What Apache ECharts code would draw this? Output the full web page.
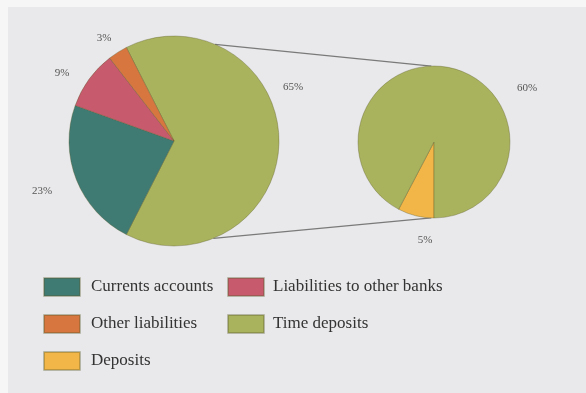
<!DOCTYPE html>
<html><head><meta charset="utf-8">
<script src="https://cdn.jsdelivr.net/npm/echarts@6/dist/echarts.min.js"></script>
<style>html,body{margin:0;padding:0;background:#f6f6f6}#c{width:586px;height:393px}</style>
</head><body><div id="c"></div>
<script>
// Data
const mainNames = ['Time deposits','Currents accounts','Liabilities to other banks','Other liabilities'];
const mainValues = [65, 23, 9, 3];
const subNames = ['Deposits','Time deposits'];
const subValues = [5, 60];
const legendLeft = ['Currents accounts','Other liabilities','Deposits'];
const legendRight = ['Liabilities to other banks','Time deposits'];

// Styles / layout
const colors = {
  'Currents accounts':'#3f7a73',
  'Liabilities to other banks':'#c75a6c',
  'Other liabilities':'#d8763f',
  'Time deposits':'#a9b25c',
  'Deposits':'#f1b548'
};
const MAIN = {cx:174, cy:141, r:105};
const SUB = {cx:434, cy:142, r:76};
const labelPos = [
  [[293,87],[42,191],[62,73],[104,38]],
  [[425,240],[527,88]]
];
function pt(p, deg){const a=deg*Math.PI/180;return [p.cx+p.r*Math.sin(a), p.cy-p.r*Math.cos(a)];}
const t1=pt(MAIN,23), t2=pt(SUB,-2), b1=pt(MAIN,158), b2=pt(SUB,182);

const chart = echarts.init(document.getElementById('c'));
const font = '"Liberation Serif","DejaVu Serif",serif';
function mk(names, vals){return names.map((n,i)=>({name:n,value:vals[i],itemStyle:{color:colors[n]}}));}
function lay(p){
  const s = labelPos[p.seriesIndex] || [];
  const q = s[p.dataIndex];
  if(!q) return {};
  return {x:q[0], y:q[1], align:'center', verticalAlign:'middle'};
}
const pieCommon = {
  type:'pie', clockwise:true, silent:true,
  itemStyle:{borderColor:'rgba(90,90,40,0.35)', borderWidth:1},
  label:{show:true, position:'outside', formatter:'{c}%', fontFamily:font, fontSize:11, color:'#555', overflow:'none'},
  labelLine:{show:false},
  emphasis:{disabled:true},
  labelLayout: lay
};
chart.setOption({
  backgroundColor:'#f6f6f6',
  animation:false,
  graphic:[
    {type:'rect', z:-10, shape:{x:8,y:7,width:578,height:386}, style:{fill:'#e9e9eb'}},
    {type:'line', z:-5, shape:{x1:t1[0],y1:t1[1],x2:t2[0],y2:t2[1]}, style:{stroke:'#7a7a7a',lineWidth:1.2}},
    {type:'line', z:-5, shape:{x1:b1[0],y1:b1[1],x2:b2[0],y2:b2[1]}, style:{stroke:'#7a7a7a',lineWidth:1.2}}
  ],
  legend:[
    {orient:'vertical', left:38, top:272, itemWidth:36, itemHeight:18, itemGap:17, icon:'rect', selectedMode:false,
     data:legendLeft, textStyle:{fontFamily:font, fontSize:17, color:'#333', padding:[0,0,0,6]}},
    {orient:'vertical', left:222, top:272, itemWidth:36, itemHeight:18, itemGap:17, icon:'rect', selectedMode:false,
     data:legendRight, textStyle:{fontFamily:font, fontSize:17, color:'#333', padding:[0,0,0,4]}}
  ],
  series:[
    Object.assign({}, pieCommon, {center:[MAIN.cx,MAIN.cy], radius:MAIN.r, startAngle:117, data:mk(mainNames, mainValues)}),
    Object.assign({}, pieCommon, {center:[SUB.cx,SUB.cy], radius:SUB.r, startAngle:270, data:mk(subNames, subValues)})
  ]
});
</script></body></html>
